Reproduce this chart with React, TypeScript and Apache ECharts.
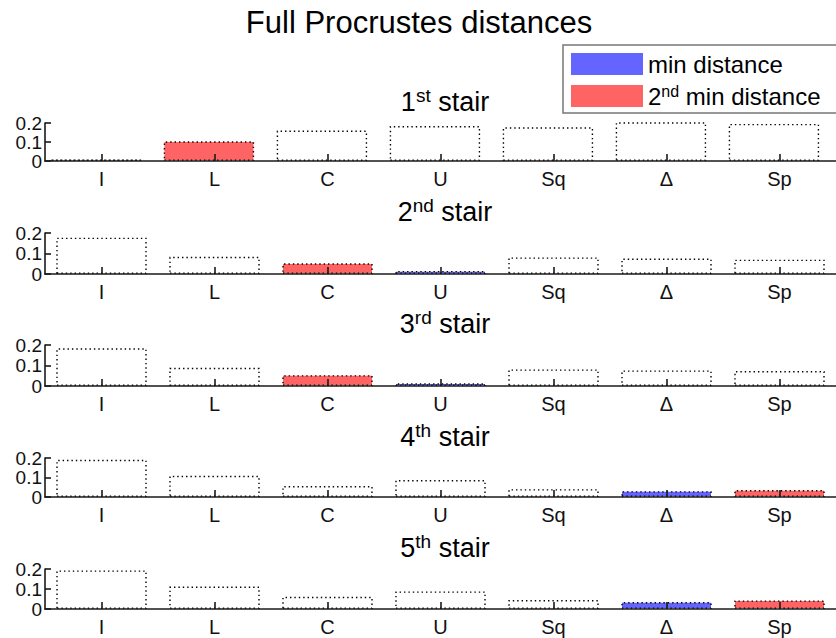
import React, { useEffect, useRef } from "react";
import * as echarts from "echarts";

const categories = ["I", "L", "C", "U", "Sq", "\u0394", "Sp"];
const stair1 = [0.008, 0.104, 0.16, 0.184, 0.177, 0.204, 0.195];
const stair2 = [0.177, 0.084, 0.052, 0.015, 0.081, 0.075, 0.07];
const stair3 = [0.184, 0.089, 0.053, 0.013, 0.081, 0.076, 0.073];
const stair4 = [0.191, 0.109, 0.056, 0.087, 0.04, 0.03, 0.036];
const stair5 = [0.193, 0.112, 0.061, 0.088, 0.045, 0.035, 0.043];
const stairs = [stair1, stair2, stair3, stair4, stair5];
const stairNumbers = ["1", "2", "3", "4", "5"];
const stairSuffixes = ["st", "nd", "rd", "th", "th"];
const legendNames = ["min distance", "2nd min distance"];
const mainTitle = "Full Procrustes distances";

const FONT = "'Liberation Sans', Arial, Helvetica, sans-serif";
const BLUE = "#6464ff";
const RED = "#ff6464";
const gridTops = [123, 233, 345, 458, 569];
const gridHeights = [38, 41, 41, 39, 40];

export default function App() {
  const ref = useRef<HTMLDivElement>(null);
  useEffect(() => {
    if (!ref.current) return;
    const chart = echarts.init(ref.current, null, { renderer: "svg" });
    const grids: any[] = [];
    const xAxes: any[] = [];
    const yAxes: any[] = [];
    const series: any[] = [];
    const titles: any[] = [
      {
        text: mainTitle,
        left: 414,
        textAlign: "center",
        top: 2,
        textStyle: { fontFamily: FONT, fontSize: 31, fontWeight: "normal", color: "#000" },
      },
    ];
    stairs.forEach((vals, i) => {
      grids.push({ left: 45, width: 791, top: gridTops[i], height: gridHeights[i] });
      xAxes.push({
        type: "category",
        gridIndex: i,
        data: categories,
        boundaryGap: true,
        axisLine: { show: true, lineStyle: { color: "#1a1a1a", width: 1.6 } },
        axisTick: { show: true, inside: true, alignWithLabel: true, length: 7, lineStyle: { color: "#1a1a1a", width: 1.6 } },
        axisLabel: { fontFamily: FONT, fontSize: 20, color: "#111", margin: 8 },
        splitLine: { show: false },
        z: 5,
      });
      yAxes.push({
        type: "value",
        gridIndex: i,
        min: 0,
        max: 0.2,
        interval: 0.1,
        axisLine: { show: true, lineStyle: { color: "#1a1a1a", width: 1.6 } },
        axisTick: { show: true, inside: true, length: 6, lineStyle: { color: "#1a1a1a", width: 1.6 } },
        axisLabel: {
          fontFamily: FONT,
          fontSize: 19,
          color: "#111",
          margin: 3,
          formatter: (v: number) => (v === 0 ? "0" : String(Math.round(v * 10) / 10)),
        },
        splitLine: { show: false },
        z: 5,
      });
      const sorted = [...vals].sort((a, b) => a - b);
      const data = vals.map((v) => {
        let color = "rgba(255,255,255,0)";
        if (v === sorted[0]) color = BLUE;
        else if (v === sorted[1]) color = RED;
        return { value: v, itemStyle: { color } };
      });
      series.push({
        type: "bar",
        xAxisIndex: i,
        yAxisIndex: i,
        data,
        barWidth: "80%",
        clip: false,
        silent: true,
        itemStyle: { borderColor: "#000", borderWidth: 1.4, borderType: [1.4, 3] },
      });
      titles.push({
        text: `${stairNumbers[i]}{sup|${stairSuffixes[i]}} stair`,
        left: 440,
        textAlign: "center",
        top: gridTops[i] - 42,
        textStyle: {
          fontFamily: FONT,
          fontSize: 27,
          lineHeight: 32,
          fontWeight: "normal",
          color: "#000",
          rich: {
            sup: { fontFamily: FONT, fontSize: 19, lineHeight: 18, verticalAlign: "top", color: "#000" },
          },
        },
      });
    });
    series.push({ type: "bar", name: legendNames[0], xAxisIndex: 0, yAxisIndex: 0, data: [], itemStyle: { color: BLUE } });
    series.push({ type: "bar", name: legendNames[1], xAxisIndex: 0, yAxisIndex: 0, data: [], itemStyle: { color: RED } });

    chart.setOption({
      animation: false,
      backgroundColor: "#fff",
      title: titles,
      grid: grids,
      xAxis: xAxes,
      yAxis: yAxes,
      series,
      legend: {
        data: legendNames,
        orient: "vertical",
        left: 563,
        top: 45,
        itemWidth: 72,
        itemHeight: 22,
        itemGap: 6,
        padding: [6, 40, 4, 8],
        borderColor: "#777",
        borderWidth: 1.5,
        backgroundColor: "#fff",
        selectedMode: false,
        icon: "rect",
        formatter: (name: string) => (name === legendNames[1] ? "2{sup|nd} min distance" : name),
        textStyle: {
          fontFamily: FONT,
          fontSize: 24,
          lineHeight: 26,
          color: "#000",
          rich: { sup: { fontFamily: FONT, fontSize: 16, lineHeight: 15, verticalAlign: "top", color: "#000" } },
        },
      },
    });
    return () => chart.dispose();
  }, []);
  return <div ref={ref} style={{ position: "fixed", left: 0, top: 0, width: 836, height: 638 }} />;
}
